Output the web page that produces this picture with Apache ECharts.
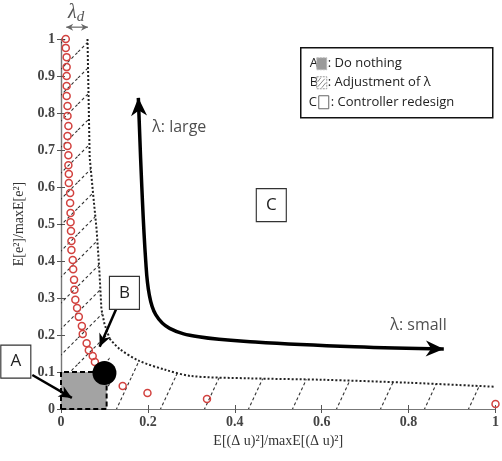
<!DOCTYPE html>
<html>
<head>
<meta charset="utf-8">
<script src="https://cdn.jsdelivr.net/npm/echarts@6/dist/echarts.min.js"></script>
<style>
html, body { margin: 0; padding: 0; background: #fff; }
#chart { width: 502px; height: 461px; }
</style>
</head>
<body>
<div id="chart"></div>
<script>
// 紅色圓點
var circleX = [0.011, 0.011, 0.013, 0.013, 0.013, 0.013, 0.013, 0.015, 0.015, 0.017, 0.015, 0.015, 0.017,
    0.017, 0.018, 0.018, 0.021, 0.021, 0.022, 0.022, 0.023, 0.024, 0.024, 0.027, 0.028, 0.030, 0.031, 0.033,
    0.037, 0.041, 0.048, 0.050, 0.059, 0.064, 0.073, 0.078,
    0.142, 0.199, 0.336, 1.0];
var circleY = [1.0, 0.976, 0.951, 0.924, 0.9, 0.873, 0.846, 0.819, 0.792, 0.765, 0.738, 0.711, 0.686,
    0.659, 0.635, 0.611, 0.584, 0.557, 0.530, 0.505, 0.481, 0.454, 0.430, 0.403, 0.378, 0.349, 0.322, 0.295,
    0.273, 0.249, 0.224, 0.203, 0.178, 0.159, 0.143, 0.127,
    0.062, 0.043, 0.027, 0.0135];

// 虛線邊界 (B 區域)
var stripX = [0, 0.061, 0.066, 0.074, 0.082, 0.088, 0.093, 0.100, 0.112];
var stripY = [1.0, 1.0, 0.68, 0.58, 0.484, 0.38, 0.27, 0.23, 0.19];
var tailX = [0.112, 0.135, 0.18, 0.24, 0.30, 0.43, 0.60, 0.80, 1.0];
var tailY = [0.19, 0.162, 0.13, 0.106, 0.089, 0.083, 0.079, 0.071, 0.06];

// A 區域 (灰色方塊) 與黑點
var boxX = [0, 0, 0.105, 0.105, 0];
var boxY = [0, 0.1, 0.1, 0, 0];
var dotX = [0.1];
var dotY = [0.097];

// λ 曲線箭頭
var curveX = [0.178, 0.186, 0.195, 0.203, 0.218, 0.25, 0.317, 0.447, 0.676, 0.881];
var curveY = [0.841, 0.6, 0.40, 0.31, 0.255, 0.218, 0.195, 0.181, 0.168, 0.162];

var xTicks = [0, 0.2, 0.4, 0.6, 0.8, 1];
var yTicks = [0, 0.1, 0.2, 0.3, 0.4, 0.5, 0.6, 0.7, 0.8, 0.9, 1];

function pairs(xs, ys) {
    return xs.map(function (x, i) { return [x, ys[i]]; });
}

function makeHatch(w, h) {
    var c = document.createElement('canvas');
    c.width = w; c.height = h;
    var g = c.getContext('2d');
    g.strokeStyle = '#333';
    g.lineWidth = 1.1;
    g.setLineDash([3, 2.5]);
    for (var k = -1; k <= 1; k++) {
        g.beginPath();
        g.moveTo(k * w, h);
        g.lineTo(k * w + w, 0);
        g.stroke();
    }
    return c;
}

function head(tip, from, len, half) {
    var dx = tip[0] - from[0], dy = tip[1] - from[1];
    var d = Math.sqrt(dx * dx + dy * dy) || 1;
    var ux = dx / d, uy = dy / d;
    var bx = tip[0] - ux * len, by = tip[1] - uy * len;
    var nx = tip[0] - ux * len * 0.7, ny = tip[1] - uy * len * 0.7;
    return {
        type: 'polygon',
        shape: { points: [tip, [bx - uy * half, by + ux * half], [nx, ny], [bx + uy * half, by - ux * half]] },
        style: { fill: '#000' }
    };
}

// [x1, y1, x2, y2, 雙向]
var pointers = [
    [-0.066, 0.092, 0.025, 0.030, 0],
    [0.128, 0.273, 0.089, 0.168, 0]
];
var bigHeads = [
    [0.181, 0.75, 0.178, 0.841],
    [0.75, 0.166, 0.881, 0.162]
];
var lambdaD = [[0.012, 1.032, 0.062, 1.032, 1]];

var labelFont = 'Liberation Serif';
var annFont = 'Open Sans';

var chart = echarts.init(document.getElementById('chart'));
var option = {
    animation: false,
    grid: { left: 61, right: 3, top: 39, bottom: 52 },
    xAxis: [{
        type: 'value', min: 0, max: 1, interval: 0.2,
        axisLine: { lineStyle: { color: '#555', width: 1.2 } },
        axisTick: { inside: true, length: 4, lineStyle: { color: '#555' } },
        axisLabel: { fontFamily: labelFont, fontSize: 14, fontWeight: 'bold', color: '#444', margin: 6,
            customValues: xTicks },
        splitLine: { show: false },
        name: 'E[(Δ u)²]/maxE[(Δ u)²]',
        nameLocation: 'middle', nameGap: 24,
        nameTextStyle: { fontFamily: labelFont, fontSize: 14, color: '#333' }
    }, {
        type: 'value', min: 0, max: 1, interval: 0.2, position: 'top',
        axisLine: { lineStyle: { color: '#777', width: 1.2 } },
        axisTick: { inside: true, length: 4, lineStyle: { color: '#555' } },
        axisLabel: { show: false },
        splitLine: { show: false }
    }],
    yAxis: [{
        type: 'value', min: 0, max: 1, interval: 0.1,
        axisLine: { show: true, lineStyle: { color: '#555', width: 1.2 } },
        axisTick: { show: true, inside: true, length: 4, lineStyle: { color: '#555' } },
        axisLabel: { fontFamily: labelFont, fontSize: 14, fontWeight: 'bold', color: '#444', margin: 6,
            customValues: yTicks },
        splitLine: { show: false },
        name: 'E[e²]/maxE[e²]',
        nameLocation: 'middle', nameGap: 32,
        nameTextStyle: { fontFamily: labelFont, fontSize: 14, color: '#333' }
    }, {
        type: 'value', min: 0, max: 1, interval: 0.1, position: 'right',
        axisLine: { show: true, lineStyle: { color: '#777', width: 1.2 } },
        axisTick: { show: true, inside: true, length: 4, lineStyle: { color: '#555' } },
        axisLabel: { show: false },
        splitLine: { show: false }
    }],
    series: [
        {
            // 斜線區 (左側)
            type: 'line', data: pairs(stripX, stripY), showSymbol: false, z: 1,
            lineStyle: { width: 0 },
            areaStyle: { color: { image: makeHatch(26, 26), repeat: 'repeat' }, opacity: 1 }
        },
        {
            // 斜線區 (下方)
            type: 'line', data: pairs(tailX, tailY), showSymbol: false, z: 1,
            lineStyle: { width: 0 },
            areaStyle: { color: { image: makeHatch(44, 94), repeat: 'repeat' }, opacity: 1 }
        },
        {
            // 虛線邊界
            type: 'line', data: pairs(stripX.slice(1), stripY.slice(1)), showSymbol: false, z: 2,
            lineStyle: { color: '#222', width: 2, type: 'dotted' }
        },
        {
            type: 'line', data: pairs(tailX, tailY), showSymbol: false, z: 2, smooth: 0.3,
            lineStyle: { color: '#222', width: 2, type: 'dotted' }
        },
        {
            // A: 灰色方塊
            type: 'line', data: pairs(boxX, boxY), showSymbol: false, z: 3,
            lineStyle: { color: '#000', width: 2, type: [5, 3] },
            areaStyle: { color: '#a3a3a3', opacity: 1 }
        },
        {
            type: 'scatter', data: pairs(circleX, circleY), z: 4,
            symbol: 'circle', symbolSize: 7,
            itemStyle: { color: 'rgba(255,255,255,0)', borderColor: '#d2423f', borderWidth: 1.5, opacity: 1 }
        },
        {
            type: 'scatter', data: pairs(dotX, dotY), z: 5,
            symbolSize: 24, itemStyle: { color: '#000', opacity: 1 }
        },
        {
            // λ 曲線
            type: 'line', data: pairs(curveX, curveY), showSymbol: false, z: 5, smooth: 0.4,
            lineStyle: { color: '#000', width: 3.5 }
        },
        {
            type: 'custom', z: 6, clip: false, data: bigHeads,
            renderItem: function (params, api) {
                var a = api.coord([api.value(0), api.value(1)]);
                var b = api.coord([api.value(2), api.value(3)]);
                return head(b, a, 18, 8);
            }
        },
        {
            type: 'custom', z: 6, clip: false, data: pointers.concat(lambdaD),
            renderItem: function (params, api) {
                var a = api.coord([api.value(0), api.value(1)]);
                var b = api.coord([api.value(2), api.value(3)]);
                var both = api.value(4);
                var col = both ? '#666' : '#000';
                var kids = [{
                    type: 'line',
                    shape: { x1: a[0], y1: a[1], x2: b[0], y2: b[1] },
                    style: { stroke: col, lineWidth: both ? 1.2 : 2.5 }
                }];
                var h1 = head(b, a, both ? 7 : 13, both ? 3.5 : 6);
                h1.style.fill = col;
                kids.push(h1);
                if (both) {
                    var h2 = head(a, b, 7, 3.5);
                    h2.style.fill = col;
                    kids.push(h2);
                }
                return { type: 'group', children: kids };
            }
        },
        {
            // A / B / C 方框
            type: 'scatter', z: 7, clip: false,
            symbol: 'rect', symbolSize: [30, 33],
            itemStyle: { color: '#fff', borderColor: '#333', borderWidth: 1.2, opacity: 1 },
            label: { show: true, position: 'inside', formatter: '{b}',
                fontFamily: annFont, fontSize: 17, color: '#222' },
            data: [
                { name: 'A', value: [-0.104, 0.128] },
                { name: 'B', value: [0.146, 0.314] },
                { name: 'C', value: [0.484, 0.551] }
            ]
        },
        {
            type: 'scatter', z: 7, clip: false, symbolSize: 0,
            label: { show: true, position: 'right', distance: 0, formatter: '{b}',
                fontFamily: annFont, fontSize: 16, color: '#222' },
            data: [
                { name: 'λ: large', value: [0.21, 0.762] },
                { name: 'λ: small', value: [0.758, 0.227] }
            ]
        }
    ],
    graphic: [
        {
            type: 'text', left: 68, top: 3,
            style: {
                text: '{l|λ}{d|d}',
                rich: {
                    l: { fontFamily: labelFont, fontStyle: 'italic', fontSize: 20, fill: '#555' },
                    d: { fontFamily: labelFont, fontStyle: 'italic', fontSize: 15, fill: '#555', padding: [8, 0, 0, 0] }
                }
            }
        },
        {
            type: 'group', left: 300, top: 47,
            children: [
                { type: 'rect', shape: { x: 0, y: 0, width: 192, height: 70 },
                  style: { fill: '#fff', stroke: '#111', lineWidth: 1.5 } },
                { type: 'text', x: 9, y: 16, style: { text: 'A', fontFamily: annFont, fontSize: 13, fill: '#222', verticalAlign: 'middle' } },
                { type: 'rect', shape: { x: 16, y: 10, width: 10, height: 12 },
                  style: { fill: '#9a9a9a', stroke: '#bbb', lineWidth: 1, lineDash: [2, 1] } },
                { type: 'text', x: 27, y: 16, style: { text: ': Do nothing', fontFamily: annFont, fontSize: 13, fill: '#222', verticalAlign: 'middle' } },
                { type: 'text', x: 9, y: 35, style: { text: 'B', fontFamily: annFont, fontSize: 13, fill: '#222', verticalAlign: 'middle' } },
                { type: 'rect', shape: { x: 16, y: 29, width: 10, height: 12 },
                  style: { fill: '#fff', stroke: '#999', lineWidth: 1, lineDash: [2, 1] } },
                { type: 'line', shape: { x1: 17, y1: 39, x2: 24, y2: 31 }, style: { stroke: '#888', lineWidth: 1 } },
                { type: 'line', shape: { x1: 17, y1: 34, x2: 20, y2: 30 }, style: { stroke: '#888', lineWidth: 1 } },
                { type: 'line', shape: { x1: 21, y1: 40, x2: 25, y2: 35 }, style: { stroke: '#888', lineWidth: 1 } },
                { type: 'text', x: 27, y: 35, style: { text: ': Adjustment of λ', fontFamily: annFont, fontSize: 13, fill: '#222', verticalAlign: 'middle' } },
                { type: 'text', x: 8, y: 55, style: { text: 'C', fontFamily: annFont, fontSize: 13, fill: '#222', verticalAlign: 'middle' } },
                { type: 'rect', shape: { x: 18, y: 48, width: 10, height: 13 },
                  style: { fill: '#fff', stroke: '#666', lineWidth: 1 } },
                { type: 'text', x: 30, y: 55, style: { text: ': Controller redesign', fontFamily: annFont, fontSize: 13, fill: '#222', verticalAlign: 'middle' } }
            ]
        }
    ]
};
chart.setOption(option);

window.addEventListener('resize', function () {
    chart.resize();
});
</script>
</body>
</html>
